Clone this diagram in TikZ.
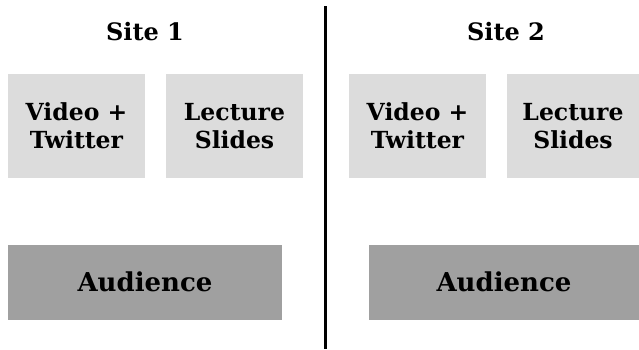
\documentclass[tikz,border=0pt]{standalone}
\usepackage{fontspec}
\setmainfont{DejaVu Serif}
\definecolor{lightbox}{HTML}{DCDCDC}
\definecolor{darkbox}{HTML}{A0A0A0}
\tikzset{
  title/.style={font=\bfseries\fontsize{24}{28}\selectfont, anchor=center, inner sep=0pt},
  srcbox/.style={fill=lightbox, draw=none, minimum width=137pt, minimum height=104pt, inner sep=0pt, align=center,
     font=\bfseries\fontsize{23.5}{28}\selectfont},
  audbox/.style={fill=darkbox, draw=none, minimum height=75pt, inner sep=0pt, align=center,
     font=\bfseries\fontsize{26}{30}\selectfont},
}
\begin{document}
\begin{tikzpicture}[x=1pt,y=-1pt]
\useasboundingbox (0,0) rectangle (639,349);
% titles
\node[title] (t1) at (145,32) {Site 1};
\node[title] (t2) at (506,32) {Site 2};
% left site
\node[srcbox] (v1) at (76.5,126) {Video +\\Twitter};
\node[srcbox] (l1) at (234.5,126) {Lecture\\Slides};
\node[audbox, minimum width=274pt] (a1) at (145,282) {Audience};
% right site
\node[srcbox] (v2) at (417.5,126) {Video +\\Twitter};
\node[srcbox, minimum width=132pt] (l2) at (573,126) {Lecture\\Slides};
\node[audbox, minimum width=270pt] (a2) at (504,282) {Audience};
% divider
\coordinate (dtop) at (325.5,6);
\coordinate (dbot) at (325.5,349);
\draw[line width=3pt] (dtop) -- (dbot);
\end{tikzpicture}
\end{document}
